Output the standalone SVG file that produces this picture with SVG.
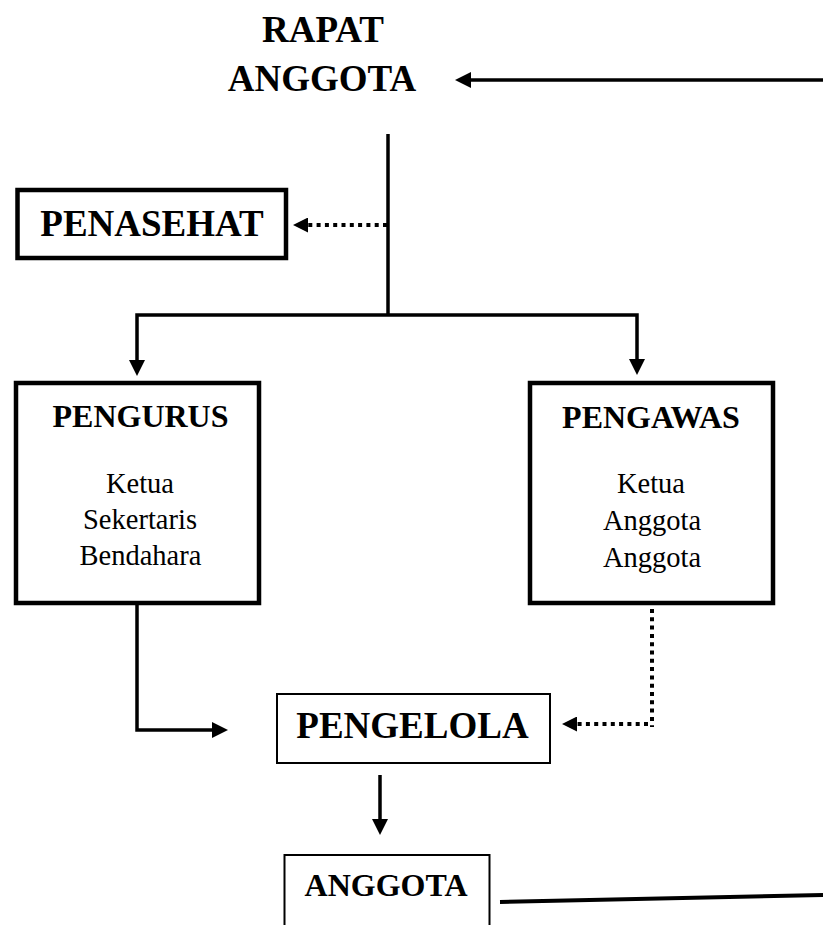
<svg xmlns="http://www.w3.org/2000/svg" width="823" height="925" viewBox="0 0 823 925">
<style>
.bg{fill:#fff}
.thick{fill:#fff;stroke:#000;stroke-width:4.5}
.thin{fill:#fff;stroke:#000;stroke-width:2}
.ln{fill:none;stroke:#000;stroke-width:3.5;stroke-linejoin:miter}
.dot{fill:none;stroke:#000;stroke-width:4;stroke-dasharray:4 4.3}
.tb{font-family:"Liberation Serif","Times New Roman",serif;font-weight:bold;text-anchor:middle;fill:#000}
.tr{font-family:"Liberation Serif","Times New Roman",serif;font-size:28.5px;text-anchor:middle;fill:#000}
.big{font-size:37px}
.mid{font-size:32px}
</style>
<defs>
<marker id="arr" markerUnits="userSpaceOnUse" markerWidth="16" markerHeight="16" refX="0" refY="8" orient="auto" viewBox="0 0 16 16">
<path d="M0,0 L16,8 L0,16 Z" fill="#000"/>
</marker>
<marker id="arrs" markerUnits="userSpaceOnUse" markerWidth="15" markerHeight="15" refX="0" refY="7.5" orient="auto" viewBox="0 0 15 15">
<path d="M0,0 L15,7.5 L0,15 Z" fill="#000"/>
</marker>
</defs>
<rect class="bg" x="0" y="0" width="823" height="925"/>

<g id="connectors">
<path class="ln" d="M823,80 H471" marker-end="url(#arr)"/>
<path class="ln" d="M388,134 V315"/>
<path class="dot" d="M387,225 H308" marker-end="url(#arrs)"/>
<path class="ln" d="M388,315 H137 V360" marker-end="url(#arr)"/>
<path class="ln" d="M388,315 H637 V359" marker-end="url(#arr)"/>
<path class="ln" d="M137,605 V730 H212" marker-end="url(#arr)"/>
<path class="dot" d="M652,609 V727"/>
<path class="dot" d="M648,724 H577" marker-end="url(#arrs)"/>
<path class="ln" d="M380,775 V819" marker-end="url(#arr)"/>
<path class="ln" style="stroke-width:4" d="M500,902 L823,895"/>
</g>

<g id="rapat-anggota">
<text class="tb big" x="323" y="42">RAPAT</text>
<text class="tb big" x="322" y="91">ANGGOTA</text>
</g>

<g id="penasehat">
<rect class="thick" x="17.5" y="190" width="268.5" height="68"/>
<text class="tb big" x="152" y="236">PENASEHAT</text>
</g>

<g id="pengurus">
<rect class="thick" x="16" y="383" width="243" height="220"/>
<text class="tb mid" x="140.5" y="427">PENGURUS</text>
<text class="tr" x="140" y="493">Ketua</text>
<text class="tr" x="140" y="529">Sekertaris</text>
<text class="tr" x="140.5" y="565">Bendahara</text>
</g>

<g id="pengawas">
<rect class="thick" x="530" y="383" width="243" height="220"/>
<text class="tb mid" x="651" y="428">PENGAWAS</text>
<text class="tr" x="651" y="493">Ketua</text>
<text class="tr" x="652" y="530">Anggota</text>
<text class="tr" x="652" y="567">Anggota</text>
</g>

<g id="pengelola">
<rect class="thin" x="277" y="694" width="273" height="69"/>
<text class="tb big" x="412.5" y="738">PENGELOLA</text>
</g>

<g id="anggota">
<rect class="thin" x="284.5" y="855" width="205" height="90"/>
<text class="tb mid" x="386" y="896">ANGGOTA</text>
</g>
</svg>
